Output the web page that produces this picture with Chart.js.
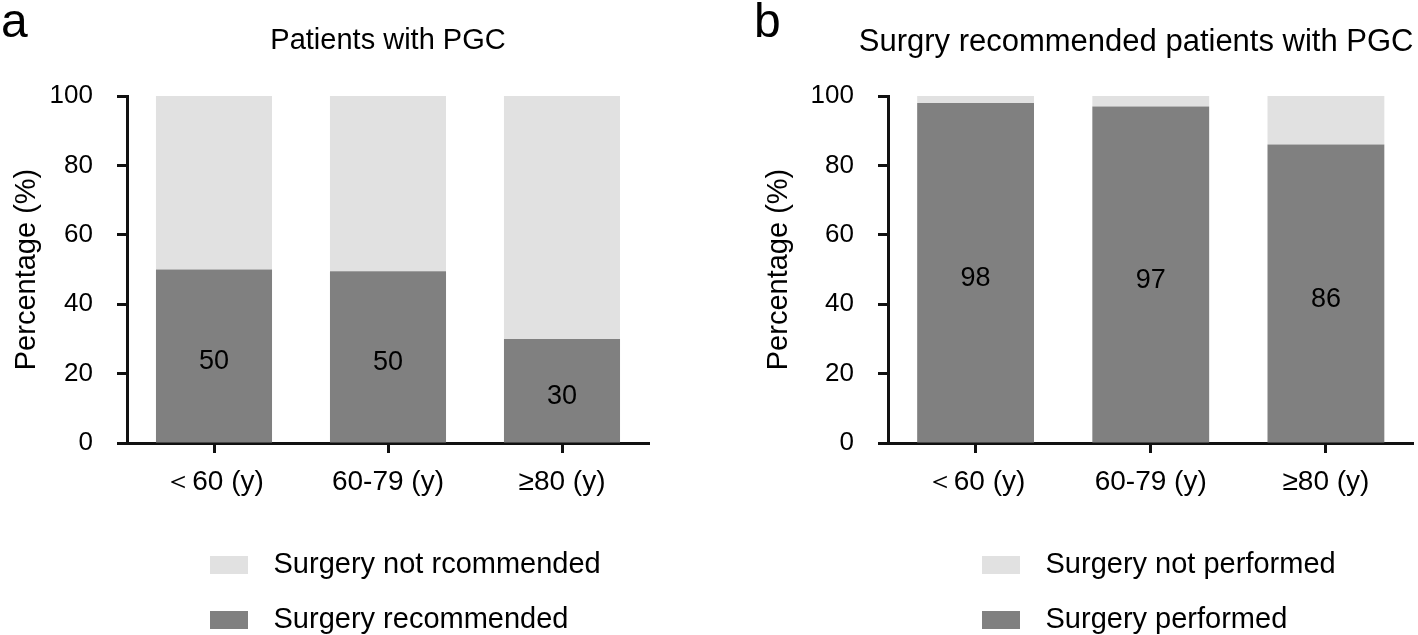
<!DOCTYPE html>
<html>
<head>
<meta charset="utf-8">
<script src="https://cdn.jsdelivr.net/npm/chart.js@4/dist/chart.umd.min.js"></script>
<style>
html, body { margin: 0; padding: 0; background: #fff; }
#wrap { position: relative; width: 1418px; height: 635px; }
#boxA { position: absolute; left: 0; top: 0; width: 720px; height: 635px; }
#boxB { position: absolute; left: 740px; top: 0; width: 678px; height: 635px; }
</style>
</head>
<body>
<div id="wrap">
  <div id="boxA"><canvas id="chartA"></canvas></div>
  <div id="boxB"><canvas id="chartB"></canvas></div>
</div>
<script>
// age groups
var categories = ['＜60 (y)', '60-79 (y)', '≥80 (y)'];

// panel a - all patients with PGC (%)
var recommended = [50, 49.5, 30];
var notRecommended = [50, 50.5, 70];

// panel b - surgery recommended patients (%)
var performed = [98, 97, 86];
var notPerformed = [2, 3, 14];

var yMin = 0, yMax = 100, yStep = 20;

var DARK = '#808080';
var LIGHT = '#e1e1e1';
var AXIS = '#111111';

Chart.defaults.font.family = "'Liberation Sans', Arial, sans-serif";
Chart.defaults.color = '#000';

// legend swatch: 38x18 box plus some blank room before the text
function swatch(color) {
  var c = document.createElement('canvas');
  c.width = 49; c.height = 18;
  var g = c.getContext('2d');
  g.fillStyle = color;
  g.fillRect(0, 0, 38, 18);
  return c;
}

// numbers written inside the dark bars
var barValues = {
  id: 'barValues',
  afterDatasetsDraw: function(chart) {
    var ctx = chart.ctx;
    var meta = chart.getDatasetMeta(0);
    var data = chart.data.datasets[0].data;
    ctx.save();
    ctx.font = '27px ' + Chart.defaults.font.family;
    ctx.fillStyle = '#000';
    ctx.textAlign = 'center';
    ctx.textBaseline = 'middle';
    meta.data.forEach(function(bar, i) {
      var p = bar.getProps(['x', 'y', 'base'], true);
      ctx.fillText(String(Math.round(data[i])), p.x, (p.y + p.base) / 2 + 6);
    });
    ctx.restore();
  }
};

// panel letter and legend placement
function panelExtras(letter, letterX, legendShift) {
  return {
    id: 'extras',
    afterLayout: function(chart) {
      chart.legend.left += legendShift;
      chart.legend.right += legendShift;
    },
    afterDraw: function(chart) {
      var ctx = chart.ctx;
      ctx.save();
      ctx.font = '48px ' + Chart.defaults.font.family;
      ctx.fillStyle = '#000';
      ctx.textBaseline = 'alphabetic';
      ctx.fillText(letter, letterX, 37);
      ctx.restore();
    }
  };
}

function makePanel(id, cfg) {
  return new Chart(document.getElementById(id), {
    type: 'bar',
    data: {
      labels: categories,
      datasets: [{
        label: cfg.darkLabel,
        data: cfg.dark,
        backgroundColor: DARK,
        pointStyle: swatch(DARK),
        barPercentage: 0.667,
        categoryPercentage: 1
      }, {
        label: cfg.lightLabel,
        data: cfg.light,
        backgroundColor: LIGHT,
        pointStyle: swatch(LIGHT),
        barPercentage: 0.667,
        categoryPercentage: 1
      }]
    },
    options: {
      responsive: true,
      maintainAspectRatio: false,
      animation: false,
      layout: { padding: { left: 0, right: cfg.padRight, top: 0, bottom: -9 } },
      plugins: {
        title: {
          display: true,
          text: cfg.title,
          fullSize: cfg.titleFull,
          align: cfg.titleAlign,
          color: '#000',
          font: { size: cfg.titleSize, weight: 'normal' },
          padding: cfg.titlePad
        },
        legend: {
          position: 'bottom',
          align: 'start',
          reverse: true,
          labels: {
            usePointStyle: true,
            pointStyleWidth: 49,
            boxHeight: 18,
            padding: 26,
            color: '#000',
            font: { size: 29 }
          }
        },
        tooltip: { enabled: false }
      },
      scales: {
        x: {
          stacked: true,
          grid: {
            display: true,
            drawOnChartArea: false,
            drawTicks: true,
            offset: false,
            tickLength: 10,
            tickWidth: 3,
            tickColor: AXIS
          },
          border: { display: true, color: AXIS, width: 3 },
          ticks: { color: '#000', padding: 12, font: { size: 28 } },
          afterFit: function(scale) { scale.height = 81; }
        },
        y: {
          stacked: true,
          min: yMin,
          max: yMax,
          grid: {
            display: true,
            drawOnChartArea: false,
            drawTicks: true,
            tickLength: 10,
            tickWidth: 3,
            tickColor: AXIS
          },
          border: { display: true, color: AXIS, width: 3 },
          ticks: { stepSize: yStep, color: '#000', padding: 24, font: { size: 26 } },
          title: {
            display: true,
            text: 'Percentage (%)',
            color: '#000',
            font: { size: 29 },
            padding: { top: cfg.yTitlePad, bottom: 0 }
          },
          afterFit: function(scale) { scale.width = cfg.yWidth; }
        }
      }
    },
    plugins: [barValues, panelExtras(cfg.letter, cfg.letterX, cfg.legendShift)]
  });
}

makePanel('chartA', {
  title: 'Patients with PGC',
  titleSize: 29, titleFull: false, titleAlign: 'center',
  titlePad: { top: 24, bottom: 37.2 },
  dark: recommended, light: notRecommended,
  darkLabel: 'Surgery recommended', lightLabel: 'Surgery not rcommended',
  padRight: 71, yWidth: 127, yTitlePad: 10,
  letter: 'a', letterX: 1, legendShift: 184
});

makePanel('chartB', {
  title: 'Surgry recommended patients with PGC',
  titleSize: 31, titleFull: true, titleAlign: 'end',
  titlePad: { top: 24, bottom: 34.8 },
  dark: performed, light: notPerformed,
  darkLabel: 'Surgery performed', lightLabel: 'Surgery not performed',
  padRight: 4.5, yWidth: 148, yTitlePad: 22,
  letter: 'b', letterX: 14, legendShift: 216
});
</script>
</body>
</html>
